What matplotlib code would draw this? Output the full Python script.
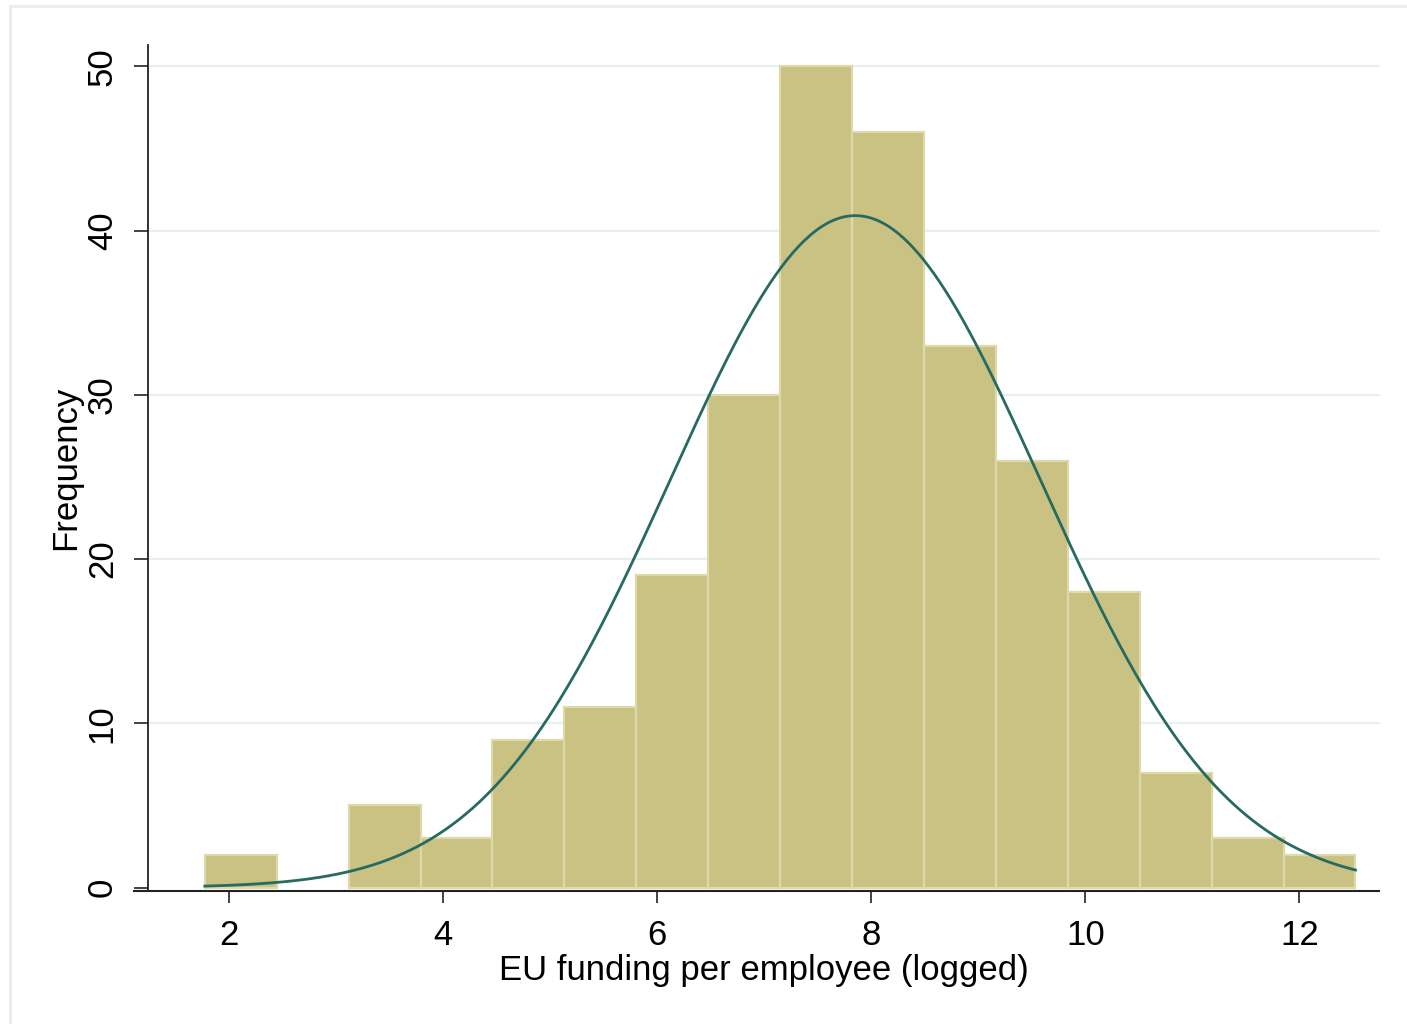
import numpy as np
import matplotlib
matplotlib.use("Agg")
import matplotlib.pyplot as plt
from matplotlib.patches import Rectangle
from matplotlib.lines import Line2D

plt.rcParams['font.family'] = ['Liberation Sans', 'DejaVu Sans']

# Histogram of logged EU funding per employee
bin_start = 1.772
bin_width = 0.672
counts = [2, 0, 5, 3, 9, 11, 19, 30, 50, 46, 33, 26, 18, 7, 3, 2]

# Normal density overlay (fitted mean and standard deviation)
mu = 7.85
sigma = 1.73

x_ticks = [2, 4, 6, 8, 10, 12]
y_ticks = [0, 10, 20, 30, 40, 50]

n_obs = sum(counts)
edges = bin_start + bin_width * np.arange(len(counts) + 1)

fig = plt.figure(figsize=(14.07, 10.24), dpi=100)
fig.patch.set_facecolor('white')

# light outer frame of the graph region
fig.patches.append(Rectangle((10 / 1407, -0.2), 1.2, 1.2 - 6 / 1024,
                             transform=fig.transFigure, fill=False,
                             edgecolor='#e6eef0', linewidth=2.0, zorder=0))

y_bottom = -0.2
ax = fig.add_axes([148 / 1407, 1 - 890.8 / 1024, (1380 - 148) / 1407, (890.8 - 45) / 1024])
ax.set_facecolor('white')

ax.bar(edges[:-1], counts, width=bin_width, align='edge',
       color='#c9c283', edgecolor='#ddd9a8',
       linewidth=[1.6 if c > 0 else 0 for c in counts], zorder=2)

xs = np.linspace(edges[0], edges[-1], 400)
dens = n_obs * bin_width * np.exp(-0.5 * ((xs - mu) / sigma) ** 2) / (sigma * np.sqrt(2 * np.pi))
ax.plot(xs, dens, color='#276a61', linewidth=2.0, zorder=3)

ax.set_xlim(1.241, 12.753)
ax.set_ylim(y_bottom, 51.3)

ax.set_xticks(x_ticks)
ax.set_yticks(y_ticks)
ax.set_yticklabels([str(v) for v in y_ticks], rotation=90, va='center')
ax.tick_params(axis='y', length=10, width=1.2, pad=11, labelsize=25, color='#222222')
ax.tick_params(axis='x', length=8.5, width=1.2, pad=12, labelsize=25, color='#222222')

for v in y_ticks[1:]:
    ax.axhline(v, color='#e8eff1', linewidth=1.6, zorder=1)

for side in ('top', 'right', 'bottom'):
    ax.spines[side].set_visible(False)
ax.spines['left'].set_linewidth(1.3)
ax.spines['left'].set_color('#222222')

# x axis line extends slightly past the y axis
ax.add_line(Line2D([1.11, 12.74], [y_bottom, y_bottom], color='#222222', linewidth=1.5,
                   clip_on=False, zorder=4))

ax.set_xlabel('EU funding per employee (logged)', fontsize=25, labelpad=1)
ax.set_ylabel('Frequency', fontsize=25, labelpad=3)

fig.savefig('out.png', dpi=100, facecolor='white')
